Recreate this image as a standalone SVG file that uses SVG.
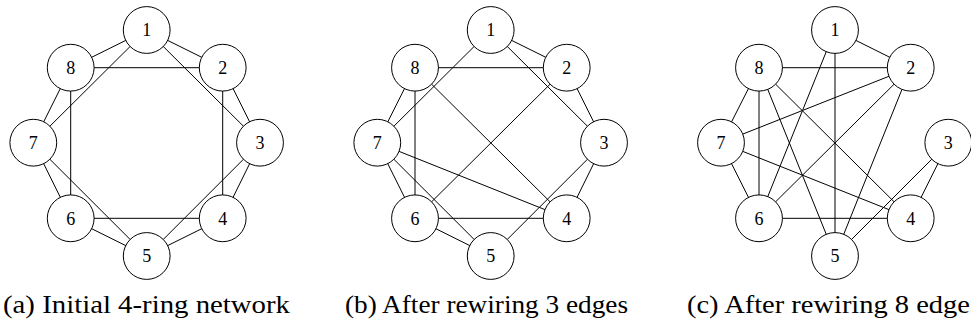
<svg xmlns="http://www.w3.org/2000/svg" width="971" height="324" viewBox="0 0 971 324">
<style>
.e line{stroke:#000;stroke-width:1}
.n circle{fill:#fff;stroke:#000;stroke-width:1}
.n text{font-family:"Liberation Serif","Times New Roman",serif;font-size:18px;text-anchor:middle;fill:#000}
.cap{font-family:"Liberation Serif","Times New Roman",serif;font-size:25px;fill:#000}
</style>
<rect width="971" height="324" fill="#fff"/>
<defs>
<circle id="nc" r="23.4"/>
</defs>
<!-- Panel (a) -->
<g id="panel-a">
<g id="edges-a" class="e">
<line x1="146.7" y1="30" x2="222.7" y2="67.7"/>
<line x1="222.7" y1="67.7" x2="260" y2="142.7"/>
<line x1="260" y1="142.7" x2="222.7" y2="218.3"/>
<line x1="222.7" y1="218.3" x2="146.7" y2="256"/>
<line x1="146.7" y1="256" x2="70.7" y2="218.3"/>
<line x1="70.7" y1="218.3" x2="33.3" y2="142.7"/>
<line x1="33.3" y1="142.7" x2="70.7" y2="67.7"/>
<line x1="70.7" y1="67.7" x2="146.7" y2="30"/>
<line x1="146.7" y1="30" x2="260" y2="142.7"/>
<line x1="222.7" y1="67.7" x2="222.7" y2="218.3"/>
<line x1="260" y1="142.7" x2="146.7" y2="256"/>
<line x1="222.7" y1="218.3" x2="70.7" y2="218.3"/>
<line x1="146.7" y1="256" x2="33.3" y2="142.7"/>
<line x1="70.7" y1="218.3" x2="70.7" y2="67.7"/>
<line x1="33.3" y1="142.7" x2="146.7" y2="30"/>
<line x1="70.7" y1="67.7" x2="222.7" y2="67.7"/>
</g>
<g id="a1" class="n"><circle cx="146.7" cy="30" r="23.4"/><text x="146.7" y="36.3">1</text></g>
<g id="a2" class="n"><circle cx="222.7" cy="67.7" r="23.4"/><text x="222.7" y="74">2</text></g>
<g id="a3" class="n"><circle cx="260" cy="142.7" r="23.4"/><text x="260" y="149">3</text></g>
<g id="a4" class="n"><circle cx="222.7" cy="218.3" r="23.4"/><text x="222.7" y="224.6">4</text></g>
<g id="a5" class="n"><circle cx="146.7" cy="256" r="23.4"/><text x="146.7" y="262.3">5</text></g>
<g id="a6" class="n"><circle cx="70.7" cy="218.3" r="23.4"/><text x="70.7" y="224.6">6</text></g>
<g id="a7" class="n"><circle cx="33.3" cy="142.7" r="23.4"/><text x="33.3" y="149">7</text></g>
<g id="a8" class="n"><circle cx="70.7" cy="67.7" r="23.4"/><text x="70.7" y="74">8</text></g>
<text class="cap" x="3" y="313" textLength="287" lengthAdjust="spacingAndGlyphs">(a) Initial 4-ring network</text>
</g>
<!-- Panel (b) -->
<g id="panel-b">
<g id="edges-b" class="e">
<line x1="490.7" y1="30" x2="566.7" y2="67.7"/>
<line x1="490.7" y1="30" x2="604" y2="142.7"/>
<line x1="490.7" y1="30" x2="377.3" y2="142.7"/>
<line x1="566.7" y1="67.7" x2="604" y2="142.7"/>
<line x1="566.7" y1="67.7" x2="415" y2="67.7"/>
<line x1="566.7" y1="67.7" x2="415" y2="218.3"/>
<line x1="604" y1="142.7" x2="566.7" y2="218.3"/>
<line x1="604" y1="142.7" x2="490.7" y2="256"/>
<line x1="566.7" y1="218.3" x2="415" y2="218.3"/>
<line x1="566.7" y1="218.3" x2="377.3" y2="142.7"/>
<line x1="566.7" y1="218.3" x2="415" y2="67.7"/>
<line x1="490.7" y1="256" x2="415" y2="218.3"/>
<line x1="490.7" y1="256" x2="377.3" y2="142.7"/>
<line x1="415" y1="218.3" x2="377.3" y2="142.7"/>
<line x1="415" y1="218.3" x2="415" y2="67.7"/>
<line x1="377.3" y1="142.7" x2="415" y2="67.7"/>
</g>
<g id="b1" class="n"><circle cx="490.7" cy="30" r="23.4"/><text x="490.7" y="36.3">1</text></g>
<g id="b2" class="n"><circle cx="566.7" cy="67.7" r="23.4"/><text x="566.7" y="74">2</text></g>
<g id="b3" class="n"><circle cx="604" cy="142.7" r="23.4"/><text x="604" y="149">3</text></g>
<g id="b4" class="n"><circle cx="566.7" cy="218.3" r="23.4"/><text x="566.7" y="224.6">4</text></g>
<g id="b5" class="n"><circle cx="490.7" cy="256" r="23.4"/><text x="490.7" y="262.3">5</text></g>
<g id="b6" class="n"><circle cx="415" cy="218.3" r="23.4"/><text x="415" y="224.6">6</text></g>
<g id="b7" class="n"><circle cx="377.3" cy="142.7" r="23.4"/><text x="377.3" y="149">7</text></g>
<g id="b8" class="n"><circle cx="415" cy="67.7" r="23.4"/><text x="415" y="74">8</text></g>
<text class="cap" x="345" y="313" textLength="283" lengthAdjust="spacingAndGlyphs">(b) After rewiring 3 edges</text>
</g>
<!-- Panel (c) -->
<g id="panel-c">
<g id="edges-c" class="e">
<line x1="835" y1="30" x2="910.7" y2="67.7"/>
<line x1="835" y1="30" x2="835" y2="256"/>
<line x1="835" y1="30" x2="759" y2="218.3"/>
<line x1="910.7" y1="67.7" x2="759" y2="67.7"/>
<line x1="910.7" y1="67.7" x2="721" y2="142.7"/>
<line x1="910.7" y1="67.7" x2="759" y2="218.3"/>
<line x1="910.7" y1="67.7" x2="835" y2="256"/>
<line x1="948.3" y1="142.7" x2="910.7" y2="218.3"/>
<line x1="948.3" y1="142.7" x2="835" y2="256"/>
<line x1="910.7" y1="218.3" x2="759" y2="218.3"/>
<line x1="910.7" y1="218.3" x2="721" y2="142.7"/>
<line x1="910.7" y1="218.3" x2="759" y2="67.7"/>
<line x1="835" y1="256" x2="759" y2="67.7"/>
<line x1="759" y1="218.3" x2="721" y2="142.7"/>
<line x1="759" y1="218.3" x2="759" y2="67.7"/>
<line x1="721" y1="142.7" x2="759" y2="67.7"/>
</g>
<g id="c1" class="n"><circle cx="835" cy="30" r="23.4"/><text x="835" y="36.3">1</text></g>
<g id="c2" class="n"><circle cx="910.7" cy="67.7" r="23.4"/><text x="910.7" y="74">2</text></g>
<g id="c3" class="n"><circle cx="948.3" cy="142.7" r="23.4"/><text x="948.3" y="149">3</text></g>
<g id="c4" class="n"><circle cx="910.7" cy="218.3" r="23.4"/><text x="910.7" y="224.6">4</text></g>
<g id="c5" class="n"><circle cx="835" cy="256" r="23.4"/><text x="835" y="262.3">5</text></g>
<g id="c6" class="n"><circle cx="759" cy="218.3" r="23.4"/><text x="759" y="224.6">6</text></g>
<g id="c7" class="n"><circle cx="721" cy="142.7" r="23.4"/><text x="721" y="149">7</text></g>
<g id="c8" class="n"><circle cx="759" cy="67.7" r="23.4"/><text x="759" y="74">8</text></g>
<text class="cap" x="687" y="313" textLength="294" lengthAdjust="spacingAndGlyphs">(c) After rewiring 8 edges</text>
</g>
</svg>
